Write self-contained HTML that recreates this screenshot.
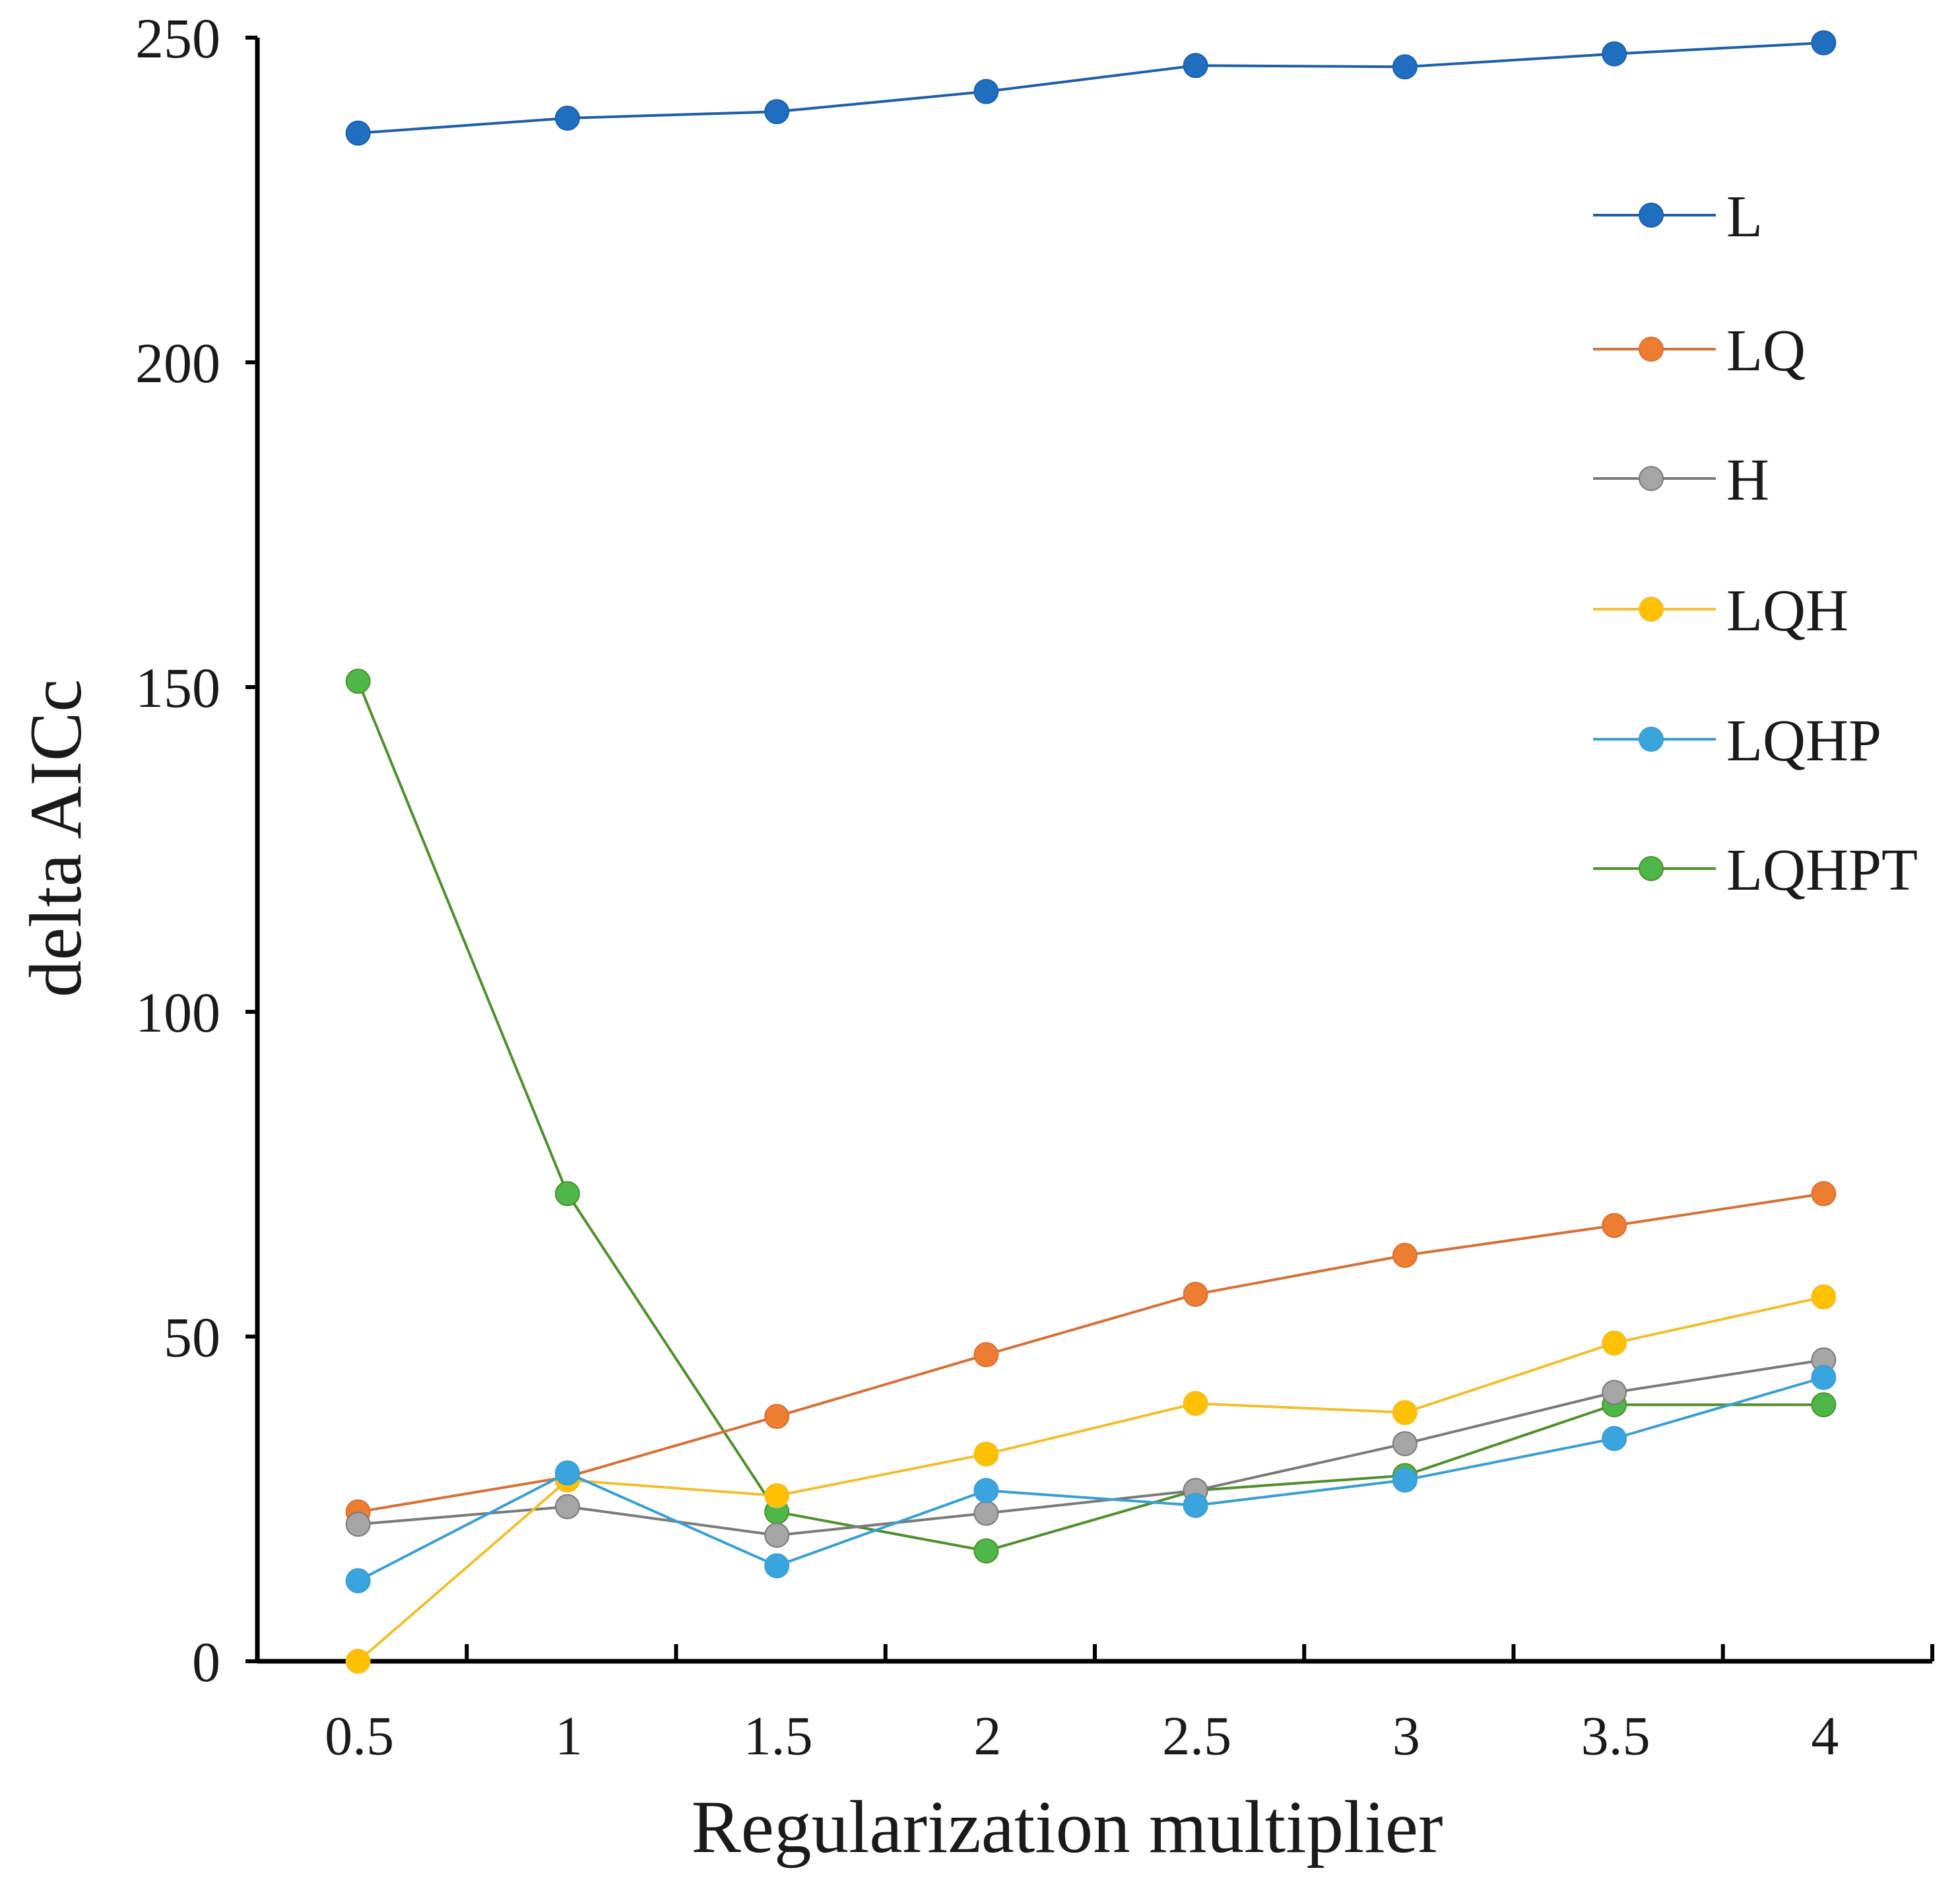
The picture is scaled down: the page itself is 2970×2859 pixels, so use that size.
<!DOCTYPE html>
<html><head><meta charset="utf-8"><style>
html,body{margin:0;padding:0;background:#fff}
svg{display:block}
text{font-family:"Liberation Serif",serif;fill:#1a1a1a}
</style></head><body>
<svg id="chart" width="2970" height="2859" viewBox="0 0 2970 2859" xmlns="http://www.w3.org/2000/svg">
<g id="axes"></g>
<g id="series"></g>
<g id="legend"></g>
<text x="0" y="0" font-size="112" text-anchor="middle" transform="translate(122,1270) rotate(-90)">delta AICc</text>
<text x="1617" y="2806" font-size="113" text-anchor="middle">Regularization multiplier</text>
</svg>
<script>
const categories = ["0.5","1","1.5","2","2.5","3","3.5","4"];
const yTicks = [0,50,100,150,200,250];
const seriesNames = ["L","LQ","H","LQH","LQHP","LQHPT"];
const seriesColors = ["#1f6fc0","#ed7d31","#a5a5a5","#ffc000","#3aa5dc","#4db848"];
const lineColors = ["#1f5fa8","#d5713a","#7a7a7a","#f0c030","#3a9fd0","#4f8f2f"];
const valsL = [235.3,237.6,238.6,241.7,245.7,245.5,247.5,249.2];
const valsLQ = [23.0,28.4,37.7,47.2,56.5,62.5,67.1,72.0];
const valsH = [21.1,23.8,19.4,22.8,26.3,33.5,41.4,46.4];
const valsLQH = [0,27.9,25.5,31.9,39.7,38.3,49.0,56.1];
const valsLQHP = [12.4,29.0,14.7,26.3,24.0,27.9,34.3,43.7];
const valsLQHPT = [150.9,72.0,23.0,17.0,26.3,28.6,39.5,39.5];
const allVals = [valsL,valsLQ,valsH,valsLQH,valsLQHP,valsLQHPT];

const NS="http://www.w3.org/2000/svg";
const X0=390, X1=2928, Y0=2517, Y1=57, YMAX=250;
const band=(X1-X0)/categories.length;
const xs=i=>X0+band*(i+0.5)-6;
const ys=v=>Y0-(v/YMAX)*(Y0-Y1);
function mk(tag,attrs,parent){const e=document.createElementNS(NS,tag);for(const k in attrs)e.setAttribute(k,attrs[k]);parent.appendChild(e);return e;}
const axes=document.getElementById('axes');
let e=mk('line',{x1:X0,y1:Y0,x2:X1,y2:Y0,stroke:'#000','stroke-width':7},axes);


e=mk('line',{x1:X0,y1:Y0+3,x2:X0,y2:Y1,stroke:'#000','stroke-width':7},axes);


yTicks.forEach(t=>{
  const l=mk('line',{x1:X0-18,y1:ys(t),x2:X0,y2:ys(t),stroke:'#000','stroke-width':6},axes);
  
  
  const tx=mk('text',{x:X0-56,y:ys(t)+30,'font-size':86,'text-anchor':'end'},axes);
  tx.textContent=t;
  
  
});
categories.forEach((c,i)=>{
  const xt=X0+band*(i+1);
  const l=mk('line',{x1:xt,y1:Y0,x2:xt,y2:Y0-26,stroke:'#000','stroke-width':6},axes);
  
  
  const tx=mk('text',{x:xs(i)+2,y:2658,'font-size':84,'text-anchor':'middle'},axes);
  tx.textContent=c;
  
  
});
const sg=document.getElementById('series');
const order=[0,5,1,2,3,4];
order.forEach(s=>{
  const vals=allVals[s];
  const g=mk('g',{},sg);
  
  
  const pts=vals.map((v,i)=>xs(i)+','+ys(v)).join(' ');
  const pl=mk('polyline',{points:pts,fill:'none',stroke:lineColors[s],'stroke-width':4},g);
  
  
  vals.forEach((v,i)=>{
    const c=mk('circle',{cx:xs(i),cy:ys(v),r:18,fill:seriesColors[s],stroke:lineColors[s],'stroke-width':2},g);
    
    
  });
});
const lg=document.getElementById('legend');
const legY=[326,529,725,923,1120,1316];
seriesNames.forEach((n,s)=>{
  const g=mk('g',{},lg);
  
  
  mk('line',{x1:2414,y1:legY[s],x2:2600,y2:legY[s],stroke:lineColors[s],'stroke-width':4},g);
  mk('circle',{cx:2502,cy:legY[s],r:18,fill:seriesColors[s],stroke:lineColors[s],'stroke-width':2},g);
  const t=mk('text',{x:2616,y:legY[s]+32,'font-size':90},g);
  t.textContent=n;
});
</script>
</body></html>
